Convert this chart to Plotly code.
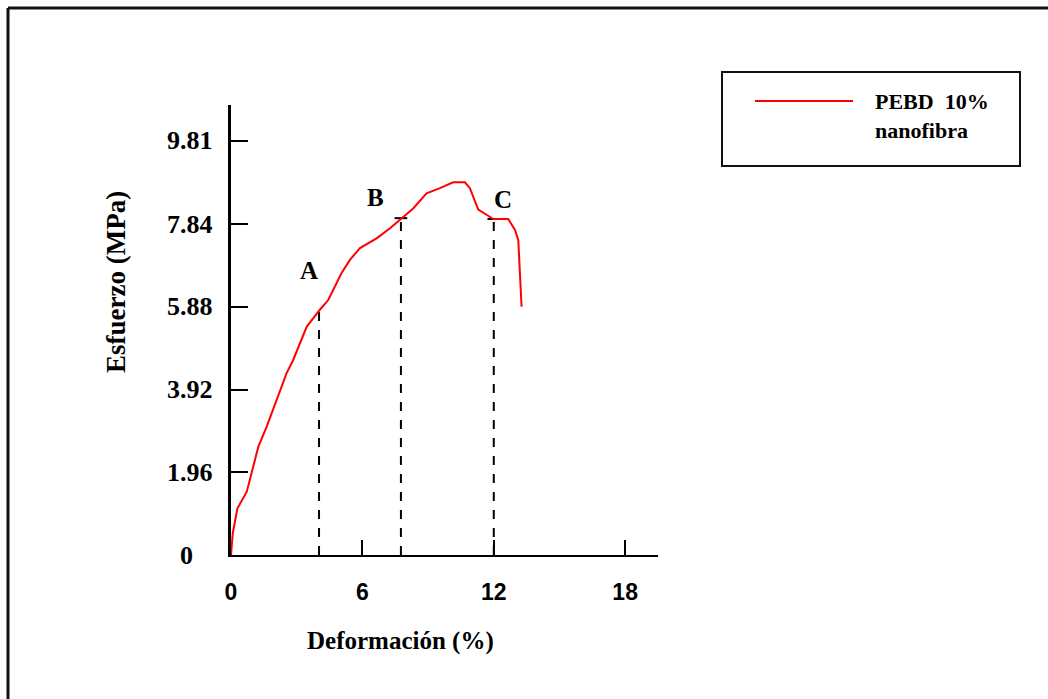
import plotly.graph_objects as go

# ---- data ----
strain = [0.0, 0.08, 0.29, 0.72, 0.94, 1.25, 1.63, 2.01, 2.54, 2.84, 3.46, 4.06,
          4.44, 5.05, 5.43, 5.89, 6.30, 6.65, 7.26, 7.72, 8.32, 8.93, 9.54, 10.15,
          10.68, 10.91, 11.29, 11.67, 11.98, 12.66, 12.97, 13.12, 13.20, 13.27]
stress = [0.0, 0.51, 1.10, 1.50, 1.94, 2.57, 3.04, 3.59, 4.31, 4.62, 5.41, 5.81,
          6.04, 6.68, 6.99, 7.27, 7.40, 7.50, 7.74, 7.94, 8.21, 8.57, 8.69, 8.83,
          8.83, 8.69, 8.18, 8.06, 7.96, 7.96, 7.70, 7.46, 6.75, 5.88]

drop_labels = ["A", "B", "C"]
drop_x = [4.02, 7.76, 12.0]
drop_y = [5.85, 7.98, 7.96]
label_x = [3.56, 6.62, 12.42]
label_y = [6.75, 8.48, 8.41]

x_ticks = [0, 6, 12, 18]
x_ticktext = ["0", "6", "12", "18"]
y_ticks = [1.96, 3.92, 5.88, 7.84, 9.81]
y_labels = ["0", "1.96", "3.92", "5.88", "7.84", "9.81"]
y_label_vals = [0, 1.96, 3.92, 5.88, 7.84, 9.81]

series_name = "PEBD  10%<br>nanofibra"

# ---- layout helpers (pixel -> paper) ----
W, H = 1048, 699
L, R, T, B = 231, 390, 105, 144
PW, PH = W - L - R, H - T - B


def px(x):
    return (x - L) / PW


def py(y):
    return (H - B - y) / PH


SERIF = "Liberation Serif"
SANS = "Liberation Sans"

fig = go.Figure()

# dashed drop lines
for xv, yv in zip(drop_x, drop_y):
    fig.add_trace(go.Scatter(x=[xv, xv], y=[0, yv], mode="lines",
                             line=dict(color="black", width=2, dash="dash"),
                             showlegend=False, hoverinfo="skip"))
# small caps on B and C
fig.add_trace(go.Scatter(x=drop_x[1:], y=drop_y[1:], mode="markers",
                         marker=dict(symbol="line-ew-open", size=9, color="black",
                                     line=dict(color="black", width=2)),
                         showlegend=False, hoverinfo="skip"))

# main curve
fig.add_trace(go.Scatter(x=strain, y=stress, mode="lines", name=series_name,
                         line=dict(color="#ff0000", width=2), showlegend=False))

annotations = []
for t, xv, yv in zip(drop_labels, label_x, label_y):
    annotations.append(dict(x=xv, y=yv, xref="x", yref="y", text="<b>%s</b>" % t,
                            showarrow=False, xanchor="center", yanchor="middle",
                            font=dict(family=SERIF, size=25, color="black")))

for t, yv in zip(y_labels, y_label_vals):
    xc = 186 if t == "0" else 190
    annotations.append(dict(x=px(xc), y=yv, xref="paper", yref="y", text="<b>%s</b>" % t,
                            showarrow=False, xanchor="center", yanchor="middle",
                            font=dict(family=SERIF, size=26, color="black")))

annotations.append(dict(x=px(400), y=py(641), xref="paper", yref="paper",
                        text="<b>Deformación (%)</b>", showarrow=False,
                        xanchor="center", yanchor="middle",
                        font=dict(family=SERIF, size=25, color="black")))
annotations.append(dict(x=px(116), y=py(282), xref="paper", yref="paper",
                        text="<b>Esfuerzo (MPa)</b>", showarrow=False, textangle=-90,
                        xanchor="center", yanchor="middle",
                        font=dict(family=SERIF, size=27, color="black")))
annotations.append(dict(x=px(873), y=py(116), xref="paper", yref="paper",
                        text="<b>%s</b>" % series_name, showarrow=False,
                        xanchor="left", yanchor="middle", align="left",
                        font=dict(family=SERIF, size=22, color="black")))

shapes = [
    # outer frame (top and left edges)
    dict(type="line", xref="paper", yref="paper", x0=px(8), x1=px(W + 5), y0=py(8), y1=py(8),
         line=dict(color="#111", width=3)),
    dict(type="line", xref="paper", yref="paper", x0=px(8), x1=px(8), y0=py(8), y1=py(H + 5),
         line=dict(color="#111", width=3)),
    # legend box
    dict(type="rect", xref="paper", yref="paper", x0=px(722), x1=px(1020), y0=py(166), y1=py(72),
         line=dict(color="#111", width=2), fillcolor="rgba(0,0,0,0)"),
    dict(type="line", xref="paper", yref="paper", x0=px(755), x1=px(853), y0=py(101), y1=py(101),
         line=dict(color="#ff0000", width=2)),
]

fig.update_layout(
    width=W, height=H,
    margin=dict(l=L, r=R, t=T, b=B, autoexpand=False),
    paper_bgcolor="white", plot_bgcolor="white",
    showlegend=False,
    annotations=annotations,
    shapes=shapes,
    xaxis=dict(range=[0, 19.5], tickvals=x_ticks, ticktext=x_ticktext,
               ticks="inside", ticklen=15, tickwidth=2, tickcolor="black",
               showline=True, linecolor="black", linewidth=2, showgrid=False, zeroline=False,
               ticklabelstandoff=15,
               tickfont=dict(family=SANS, size=23, color="black", weight="bold")),
    yaxis=dict(range=[0, 10.66], tickvals=y_ticks, showticklabels=False,
               ticks="inside", ticklen=17, tickwidth=2, tickcolor="black",
               showline=True, linecolor="black", linewidth=3, showgrid=False, zeroline=False),
)

fig.write_html("out.html")
